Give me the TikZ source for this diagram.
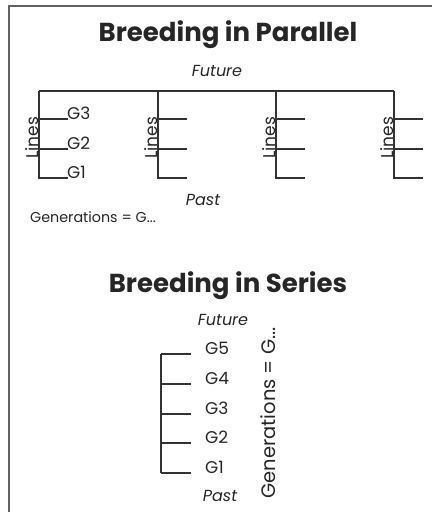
\documentclass[tikz,border=0pt]{standalone}
\usepackage{fontspec}
\setmainfont{Poppins}
\begin{document}
\begin{tikzpicture}[x=1pt,y=-1pt,
  frame/.style={draw=black!62, line width=2pt},
  ln/.style={draw=black!80, line width=1.8pt},
  txt/.style={inner sep=0pt, text=black!85},
  ttl/.style={txt, font=\fontsize{26}{26}\selectfont\bfseries},
  gl/.style={txt, anchor=base west, font=\fontsize{17}{17}\selectfont},
  tm/.style={txt, anchor=base, font=\fontsize{16}{16}\selectfont\itshape},
  lines/.style={txt, rotate=90, anchor=base, font=\fontsize{17}{17}\selectfont}
]
\useasboundingbox (0,0) rectangle (432,512);
% frame
\coordinate (fa) at (9,512);
\coordinate (fb) at (9,6);
\coordinate (fc) at (432,6);
\draw[frame] (fa) -- (fb) -- (fc);

% ---------- Breeding in Parallel ----------
\node[ttl, anchor=base] (t1) at (228,41.7) {Breeding in Parallel};
\node[tm] (fut1) at (217,76) {Future};
\node[tm] (past1) at (203,205) {Past};
\node[txt, anchor=base west, font=\fontsize{14.3}{14.3}\selectfont] (gen1) at (30,222) {Generations = G...};

\foreach \i/\x in {1/39,2/158,3/276,4/394} {
  \coordinate (top\i) at (\x,91);
  \coordinate (bot\i) at (\x,178);
  \coordinate (m3\i) at (\x,119);
  \coordinate (m2\i) at (\x,149);
  \coordinate (e3\i) at (\x+29,119);
  \coordinate (e2\i) at (\x+29,149);
  \coordinate (e1\i) at (\x+29,178);
  \draw[ln] (top\i) -- (bot\i) -- (e1\i);
  \draw[ln] (m3\i) -- (e3\i);
  \draw[ln] (m2\i) -- (e2\i);
  \node[lines] (lin\i) at (\x-0.5,138) {Lines};
}
\draw[ln] (top1) -- (top4);
\node[gl] (pg3) at (67,119) {G3};
\node[gl] (pg2) at (67,149) {G2};
\node[gl] (pg1) at (67,178) {G1};

% ---------- Breeding in Series ----------
\node[ttl, anchor=base] (t2) at (228,292.7) {Breeding in Series};
\node[tm] (fut2) at (223,325) {Future};
\node[tm] (past2) at (220,501.7) {Past};
\coordinate (st) at (161,354);
\coordinate (sb) at (161,473);
\foreach \k/\y in {5/354,4/384,3/414,2/443,1/473} {
  \coordinate (sm\k) at (161,\y);
  \coordinate (se\k) at (191,\y);
  \draw[ln] (sm\k) -- (se\k);
  \node[gl] (sg\k) at (205,\y) {G\k};
}
\draw[ln] (st) -- (sb);
\node[txt, rotate=90, anchor=base, font=\fontsize{19.5}{19.5}\selectfont] (gen2) at (275,413) {Generations = G...};
\end{tikzpicture}
\end{document}
